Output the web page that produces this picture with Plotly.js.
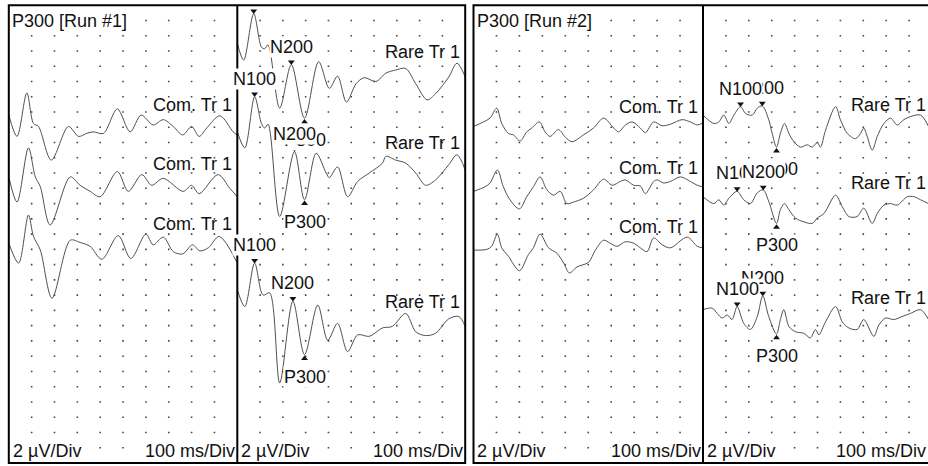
<!DOCTYPE html>
<html><head><meta charset="utf-8">
<script src="https://cdn.plot.ly/plotly-3.0.1.min.js"></script>
<style>html,body{margin:0;padding:0;background:#fff}#chart{width:928px;height:466px}</style>
</head><body><div id="chart"></div>
<script>
// ---------------- DATA (time in ms, amplitude in µV, negative up) ----------------
const panelTitles = ['P300 [Run #1]', 'P300 [Run #2]'];
const comLabel = 'Com. Tr 1';
const rareLabel = 'Rare Tr 1';
const scaleY = '2 µV/Div';
const scaleX = '100 ms/Div';
const peakNames = ['N100', 'N200', 'P300'];

// Run #1, common trials
const c1_ms = [0,36,79,108,130,186,261,305,341,370,414,475,531,579,632,676,720,761,800,833,866,924,982,1000];
const c1_uv = [-1.6,1.2,-4.5,-0.5,-0.1,4.3,-0.1,1.2,0.8,0.6,0.8,-2.4,0.6,-1.6,-0.3,-1.0,-0.1,1.0,-0.1,1.2,0.1,-1.5,0.6,1.0];
const c2_ms = [0,36,86,116,138,181,269,312,356,400,475,523,582,625,676,763,800,833,916,967,1000];
const c2_uv = [-1.5,1.8,-5.3,-1.5,-0.2,4.8,-1.5,-0.4,0.4,1.1,-2.2,0.4,-1.8,-0.4,-1.3,0.4,-0.4,0.7,-1.8,0.0,1.1];
const c3_ms = [0,43,86,108,138,189,269,312,356,407,479,534,600,632,676,720,761,804,836,873,921,1000];
const c3_uv = [-0.8,1.8,-4.5,-1.7,0.1,6.4,-1.2,-0.9,-0.4,1.3,-1.8,1.2,-2.0,-0.6,-1.6,0.3,0.6,-0.6,0.2,-0.2,-1.7,1.8];

// Run #1, rare trials
const r1_ms = [0,28,72,106,120,135,186,237,295,357,404,440,479,521,557,608,652,695,739,783,833,870,928,964,1000];
const r1_uv = [-5.0,-2.8,-8.9,-4.5,-4.3,-4.8,3.5,-2.2,4.8,-2.6,0.9,-0.7,2.7,0.3,-0.5,0.0,-1.1,-1.5,-1.7,0.3,2.4,1.6,-0.6,-2.4,-0.6];
const r2_ms = [0,33,76,106,120,135,186,251,295,346,390,404,440,484,528,579,637,652,695,739,783,826,870,928,964,1000];
const r2_uv = [-5.4,-3.3,-10.0,-6.5,-5.9,-6.4,5.7,-2.8,3.5,-2.6,0.0,0.6,-0.8,3.1,1.1,0.0,-1.3,-2.2,-1.7,-1.3,0.0,1.6,0.9,-1.1,-2.4,-0.4];
const r3_ms = [0,33,76,113,142,186,244,295,353,397,440,484,528,579,637,680,739,783,826,870,928,972,1000];
const r3_uv = [-4.7,-2.5,-8.2,-4.0,-4.3,7.5,-3.2,3.8,-2.7,1.9,-0.3,3.4,1.2,1.4,0.3,0.1,-1.6,0.8,1.3,1.0,-0.9,-1.2,0.1];

// Run #2, common trials
const d1_ms = [0,43,72,101,123,152,174,203,232,254,287,312,334,370,400,429,479,523,567,611,632,662,691,727,749,785,822,858,909,945,975,1000];
const d1_uv = [-0.1,-0.7,-1.2,-2.5,-0.5,0.8,1.0,1.8,0.6,0.1,-0.7,0.6,1.2,0.3,1.3,1.9,1.0,0.1,-1.2,0.1,0.6,-0.3,-0.7,0.1,0.7,-0.7,-0.2,-0.4,-1.0,-0.7,-0.3,-0.6];
const d2_ms = [0,50,72,104,130,159,200,232,261,290,320,349,378,407,436,479,523,567,604,640,662,698,727,749,785,800,829,858,902,945,975,1000];
const d2_uv = [0.4,-0.2,-0.7,-2.4,-0.2,1.5,2.7,1.1,-0.2,-1.5,0.2,0.9,0.4,2.0,1.8,1.3,0.2,-1.2,-0.4,-0.9,-1.1,-0.4,-0.3,0.7,-0.9,-1.1,-0.7,-0.9,-1.5,-0.9,-0.4,-0.2];
const d3_ms = [0,58,79,104,123,152,200,239,261,290,327,363,393,418,451,501,531,567,596,625,662,698,727,756,785,822,858,931,975,1000];
const d3_uv = [0.1,0.0,-0.4,-2.0,-0.2,0.9,2.8,0.7,-0.2,-2.0,-0.2,0.5,1.8,3.1,2.3,1.7,0.1,-1.2,-0.8,-0.4,-1.0,-0.8,-0.2,0.3,-1.5,-0.6,-0.2,-1.6,-0.4,-0.2];

// Run #2, rare trials
const e1_ms = [0,47,69,91,113,135,164,186,215,237,259,287,302,321,338,356,375,397,426,455,477,499,513,535,579,600,630,666,688,702,717,739,761,790,819,848,877,906,950,985];
const e1_uv = [-1.6,-0.5,-0.7,-1.6,-0.5,-1.6,-2.7,-1.8,-1.6,-2.5,-2.8,-1.0,0.8,2.6,0.8,-0.5,0.8,1.9,2.6,2.3,2.6,2.0,2.6,0.4,-2.7,-1.0,0.8,1.5,0.8,0.1,1.2,3.0,1.2,-0.5,-1.2,-0.3,-1.0,-1.4,-1.6,-0.1];
const e2_ms = [0,47,69,91,113,149,178,207,237,263,287,321,338,356,375,404,441,477,499,528,579,608,637,673,702,739,761,790,819,848,892,921,950,985];
const e2_uv = [-0.9,0.0,-0.5,0.2,-0.7,-1.6,-0.5,0.0,-1.4,-1.8,-0.3,2.6,0.8,0.0,0.8,1.9,2.4,2.6,1.9,1.3,-1.1,0.4,1.7,1.7,0.6,2.6,1.3,0.2,0.0,0.2,-0.9,-0.9,-0.5,0.0];
const e3_ms = [0,40,62,84,106,127,149,178,207,237,261,287,321,338,353,375,404,440,469,491,506,535,579,608,637,673,702,746,768,797,833,870,906,950,985];
const e3_uv = [-1.1,-1.3,-0.6,0.0,-0.4,0.2,-1.5,0.7,1.5,-0.2,-2.9,-0.2,2.1,0.2,-1.1,1.1,1.8,2.0,2.6,1.5,2.2,0.5,-1.5,0.5,1.3,1.5,0.2,2.4,0.9,0.0,0.2,-0.2,-0.6,-1.1,0.2];

// Peak picks (N100, N200, P300)
const r1_peak_ms = [72,237,295],  r1_peak_uv = [-8.9,-2.2,4.8];
const r2_peak_ms = [76,251,295],  r2_peak_uv = [-10.0,-2.8,3.5];
const r3_peak_ms = [76,244,295],  r3_peak_uv = [-8.2,-3.2,3.8];
const e1_peak_ms = [164,259,321], e1_peak_uv = [-2.7,-2.8,2.6];
const e2_peak_ms = [149,263,321], e2_peak_uv = [-1.6,-1.8,2.6];
const e3_peak_ms = [149,261,321], e3_peak_uv = [-1.5,-2.9,2.1];

// ---------------- LAYOUT / STYLE ----------------
const W = 928, H = 466;
const TOP = 5.2, BOT = 463;           // frame top / bottom (px)
const UV_RANGE = 60;                  // 30 divisions x 2 µV
const PXPERUV = (BOT - TOP) / UV_RANGE;
const FONT = 'Arial, "Liberation Sans", sans-serif';
const FS = 18;
const TXT = '#111';
const LINE = '#505050';
const px = v => v / W, py = v => 1 - v / H;

// subpanel frames in px: [left, right]
const frames = [[8.8, 237.3], [237.3, 465.2], [473.5, 703], [703, 932]];
const subplots = [
  {traces: [[c1_ms,c1_uv],[c2_ms,c2_uv],[c3_ms,c3_uv]], base: [16,24,32], label: comLabel,
   labelY: [105,164,224], peaks: null},
  {traces: [[r1_ms,r1_uv],[r2_ms,r2_uv],[r3_ms,r3_uv]], base: [10,22,42], label: rareLabel,
   labelY: [52,143,301.7],
   peaks: [[r1_peak_ms,r1_peak_uv,[0,1,2]],[r2_peak_ms,r2_peak_uv,[0,1,2]],[r3_peak_ms,r3_peak_uv,[0,1,2]]]},
  {traces: [[d1_ms,d1_uv],[d2_ms,d2_uv],[d3_ms,d3_uv]], base: [16,24,32], label: comLabel,
   labelY: [106.7,168.3,226.7], peaks: null},
  {traces: [[e1_ms,e1_uv],[e2_ms,e2_uv],[e3_ms,e3_uv]], base: [16,26,41], label: rareLabel,
   labelY: [105,183.3,298.3],
   peaks: [[e1_peak_ms,e1_peak_uv,[1,0,2]],[e2_peak_ms,e2_peak_uv,[0,1,2]],[e3_peak_ms,e3_peak_uv,[1,0,2]]]}
];

const data = [];
const annotations = [];
const layout = {
  width: W, height: H, margin: {l:0, r:0, t:0, b:0},
  paper_bgcolor: '#fff', plot_bgcolor: 'rgba(0,0,0,0)', showlegend: false,
  font: {family: FONT, size: FS, color: TXT}
};
const tf = {family: FONT, size: FS, color: TXT};

subplots.forEach((sp, k) => {
  const n = k === 0 ? '' : String(k + 1);
  const xa = 'x' + n, ya = 'y' + n;
  const [l, r] = frames[k];
  const rightPx = Math.min(r, W);
  const xmax = (rightPx - l) / (r - l) * 1000;
  layout['xaxis' + n] = {domain: [px(l), px(rightPx)], range: [0, xmax], visible: false, fixedrange: true, anchor: ya};
  layout['yaxis' + n] = {domain: [py(BOT), py(TOP)], range: [UV_RANGE, 0], visible: false, fixedrange: true, anchor: xa};

  // dotted division grid
  const gx = [], gy = [];
  for (let i = 1; i < 10; i++) for (let j = 1; j < 30; j++) { gx.push(i * 100); gy.push(j * 2); }
  data.push({type: 'scatter', mode: 'markers', x: gx, y: gy, xaxis: xa, yaxis: ya, hoverinfo: 'skip',
             marker: {symbol: 'square', size: 1.6, color: '#444'}});

  // waveforms
  sp.traces.forEach(([ms, uv], t) => {
    data.push({type: 'scatter', mode: 'lines', x: ms, y: uv.map(v => v + sp.base[t]),
               xaxis: xa, yaxis: ya, hoverinfo: 'skip',
               line: {color: LINE, width: 1, shape: 'spline', smoothing: 0.9}});
    annotations.push({xref: 'paper', yref: 'paper', x: px(rightPx - (k === 3 ? 0.5 : 3)), y: py(sp.labelY[t]),
                      xanchor: 'right', yanchor: 'middle', showarrow: false, text: sp.label, font: tf});
  });

  // peak markers and labels
  if (sp.peaks) {
    sp.peaks.forEach(([pms, puv, order], t) => {
      const isN = pms.map((_, i) => peakNames[i][0] === 'N');
      data.push({type: 'scatter', mode: 'markers', xaxis: xa, yaxis: ya, hoverinfo: 'skip', cliponaxis: false,
                 x: pms, y: puv.map((v, i) => v + sp.base[t] + (isN[i] ? -0.35 : 0.5)),
                 marker: {symbol: pms.map((_, i) => isN[i] ? 'triangle-down' : 'triangle-up'), size: 6, color: '#111'}});
      order.forEach(i => {
        const yPx = TOP + (puv[i] + sp.base[t]) * PXPERUV + (isN[i] ? -18 : 22);
        if (yPx < TOP + 8) return;  // label falls outside the frame
        annotations.push({xref: xa, yref: ya, x: pms[i], y: puv[i] + sp.base[t],
                          yshift: isN[i] ? 18 : -22, showarrow: false, text: peakNames[i],
                          bgcolor: '#fff', borderpad: 0, font: tf});
      });
    });
  }

  // scale texts
  annotations.push({xref: 'paper', yref: 'paper', x: px(l + 3), y: py(450.5), xanchor: 'left', yanchor: 'middle',
                    showarrow: false, text: scaleY, bgcolor: '#fff', borderpad: 0, font: tf});
  annotations.push({xref: 'paper', yref: 'paper', x: px(Math.min(r, W) - 1.5), y: py(450.5), xanchor: 'right', yanchor: 'middle',
                    showarrow: false, text: scaleX, bgcolor: '#fff', borderpad: 0, font: tf});
});

// panel titles
[[panelTitles[0], 11], [panelTitles[1], 476]].forEach(([t, x]) => {
  annotations.push({xref: 'paper', yref: 'paper', x: px(x), y: py(21), xanchor: 'left', yanchor: 'middle',
                    showarrow: false, text: t, bgcolor: '#fff', borderpad: 0, font: tf});
});

layout.annotations = annotations;
const ln = {color: '#000', width: 2};
layout.shapes = [
  {type: 'rect', xref: 'paper', yref: 'paper', x0: px(8.8), x1: px(465.2), y0: py(BOT), y1: py(TOP), line: ln, layer: 'above'},
  {type: 'rect', xref: 'paper', yref: 'paper', x0: px(473.5), x1: px(940), y0: py(BOT), y1: py(TOP), line: ln, layer: 'above'},
  {type: 'line', xref: 'paper', yref: 'paper', x0: px(237.3), x1: px(237.3), y0: py(BOT), y1: py(TOP), line: ln, layer: 'above'},
  {type: 'line', xref: 'paper', yref: 'paper', x0: px(703), x1: px(703), y0: py(BOT), y1: py(TOP), line: ln, layer: 'above'}
];

Plotly.newPlot('chart', data, layout, {staticPlot: true, displayModeBar: false});
</script>
</body></html>
